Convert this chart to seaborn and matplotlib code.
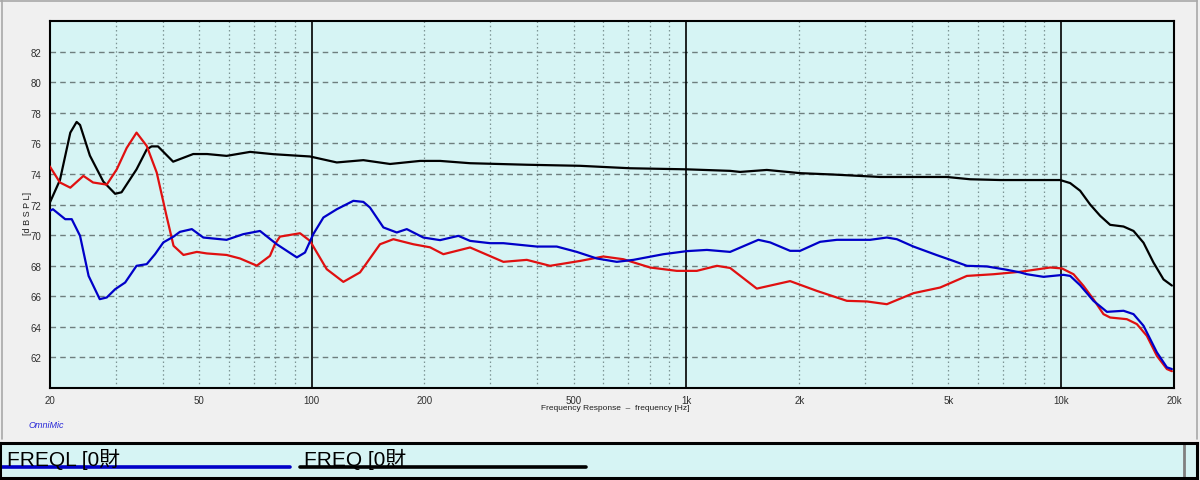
import numpy as np
import pandas as pd
import matplotlib
matplotlib.use("Agg")
import matplotlib.pyplot as plt
import seaborn as sns
from matplotlib.ticker import FixedLocator, FixedFormatter, NullLocator
from matplotlib.lines import Line2D

# ---------------- data (Hz, dB SPL) ----------------
black_freq = [20.0, 21.3, 22.7, 23.6, 24.1, 25.6, 27.8, 29.9, 31.1, 34.1, 36.3, 37.4, 38.9,
              42.7, 48.3, 52.6, 59.3, 68.5, 79.0, 99.0, 116.7, 137.4, 161.9, 194.7, 220.1,
              264.7, 375.1, 520.3, 707.6, 1002, 1308, 1391, 1639, 2011, 2463, 3288, 4954,
              5718, 6873, 7772, 9937, 10568, 11235, 11947, 12706, 13510, 14667, 15596,
              16584, 17634, 18753, 19743]
black_db = [72.1, 73.6, 76.7, 77.4, 77.2, 75.2, 73.5, 72.7, 72.8, 74.3, 75.6, 75.8, 75.8,
            74.8, 75.3, 75.3, 75.18, 75.44, 75.29, 75.14, 74.75, 74.9, 74.65, 74.85, 74.85,
            74.7, 74.6, 74.53, 74.37, 74.3, 74.2, 74.13, 74.26, 74.05, 73.96, 73.8, 73.8,
            73.65, 73.6, 73.6, 73.6, 73.4, 72.9, 72.0, 71.26, 70.67, 70.56, 70.27,
            69.5, 68.2, 67.1, 66.7]

red_freq = [20.0, 21.3, 22.7, 24.6, 26.1, 28.4, 30.2, 32.1, 34.1, 36.3, 38.6, 41.0, 42.8,
            45.5, 49.4, 52.5, 59.3, 64.4, 71.4, 77.4, 79.8, 82.3, 93.1, 99.0, 109.7, 121.5,
            134.6, 152.2, 165.2, 186.8, 207, 224.6, 264.7, 324.8, 375.1, 432.6, 520.3,
            600.4, 679, 800, 942.6, 1066, 1206, 1308, 1541, 1891, 2229, 2680, 3030, 3426,
            4034, 4753, 5602, 6598, 7772, 9348, 10044, 10788, 11468, 12194, 12966, 13510,
            14972, 15918, 16928, 18004, 19144, 19743]
red_db = [74.5, 73.44, 73.1, 73.87, 73.44, 73.3, 74.3, 75.7, 76.7, 75.83, 74.09, 71.25, 69.3,
          68.7, 68.9, 68.8, 68.7, 68.47, 68.0, 68.64, 69.4, 69.9, 70.12, 69.62, 67.77, 66.94,
          67.56, 69.4, 69.73, 69.4, 69.2, 68.75, 69.19, 68.25, 68.38, 67.99, 68.31,
          68.6, 68.42, 67.88, 67.66, 67.66, 67.99, 67.85, 66.5, 66.99, 66.35, 65.7, 65.66, 65.48,
          66.2, 66.57, 67.33, 67.44, 67.6, 67.88, 67.82, 67.44, 66.68, 65.8, 64.83, 64.61,
          64.5, 64.18, 63.41, 62.1, 61.24, 61.1]

blue_freq = [20.0, 20.4, 22.0, 22.9, 24.1, 25.4, 27.2, 28.4, 29.9, 31.8, 34.1, 36.3, 38.2,
             40.2, 42.8, 44.5, 47.9, 51.4, 59.3, 65.7, 72.8, 80.7, 91.3, 96.0, 101.0, 107.5,
             116.7, 129.2, 137.4, 143.1, 155.4, 168.7, 179.4, 198.6, 220.1, 246.3, 264.7,
             299.3, 324.8, 398.8, 450.8, 510, 576.6, 652, 722.2, 868.2, 1002, 1134, 1308,
             1556, 1673, 1891, 2011, 2274, 2520, 3092, 3426, 3644, 4034, 4657, 5159, 5602,
             6333, 7161, 7772, 8100, 8970, 10143, 10568, 11235, 12194, 13245, 14667, 15596,
             16584, 18004, 19144, 19743]
blue_db = [71.58, 71.69, 71.04, 71.04, 69.95, 67.33, 65.81, 65.92, 66.46, 66.9, 67.99, 68.1, 68.75,
           69.52, 69.9, 70.21, 70.39, 69.84, 69.69, 70.06, 70.27, 69.4, 68.54, 68.86, 70.06, 71.15,
           71.69, 72.24, 72.17, 71.8, 70.5, 70.17, 70.39, 69.84, 69.67, 69.95, 69.62,
           69.47, 69.47, 69.25, 69.25, 68.9, 68.47, 68.25, 68.38, 68.75, 68.95, 69.03, 68.9,
           69.69, 69.52, 68.97, 68.97, 69.56, 69.69, 69.69, 69.84, 69.73, 69.25, 68.69, 68.31, 67.99,
           67.95, 67.73, 67.56, 67.44, 67.27, 67.4, 67.33, 66.72, 65.7, 64.98, 65.05, 64.83,
           64.07, 62.33, 61.35, 61.24]

x_tick_vals = [20, 50, 100, 200, 500, 1000, 2000, 5000, 10000, 20000]
x_tick_labels = ["20", "50", "100", "200", "500", "1k", "2k", "5k", "10k", "20k"]
y_tick_vals = [62, 64, 66, 68, 70, 72, 74, 76, 78, 80, 82]
legend_labels = ["FREQL [0財", "FREQ [0財"]

# ---------------- style ----------------
sns.set_theme(style="white")
plt.rcParams["font.family"] = ["Liberation Sans", "Noto Sans CJK SC"]

W, H = 1200, 481
fig = plt.figure(figsize=(W / 100, H / 100), dpi=100, facecolor="#f0f0f0")

L, R, T, B = 49.7, 1174, 22, 389
ax = fig.add_axes([L / W, 1 - B / H, (R - L) / W, (B - T) / H])
ax.set_facecolor("#d6f4f4")

df = pd.concat([
    pd.DataFrame({"freq": black_freq, "db": black_db, "curve": "black"}),
    pd.DataFrame({"freq": red_freq, "db": red_db, "curve": "red"}),
    pd.DataFrame({"freq": blue_freq, "db": blue_db, "curve": "blue"}),
], ignore_index=True)

palette = {"black": "#000000", "red": "#e01010", "blue": "#0000c8"}
sns.lineplot(data=df, x="freq", y="db", hue="curve", palette=palette, ax=ax,
             legend=False, sort=False, estimator=None, linewidth=1.6, zorder=5)

ax.set_xscale("log")
ax.set_xlim(20, 20000)
ax.set_ylim(60, 84)

# grids
minor_x = [m * d for d in (10, 100, 1000) for m in range(2, 10) if 20 < m * d < 20000]
minor_x = [v for v in minor_x if v not in (100, 1000, 10000)]
for v in minor_x:
    ax.axvline(v, color="#7c9494", lw=0.9, ls=(0, (1.2, 2.2)), zorder=1)
for v in (100, 1000, 10000):
    ax.axvline(v, color="#000000", lw=1.2, zorder=2)
for v in y_tick_vals:
    ax.axhline(v, color="#6e7e7e", lw=1.0, ls=(0, (4, 3)), zorder=1)

ax.xaxis.set_major_locator(FixedLocator(x_tick_vals))
ax.xaxis.set_major_formatter(FixedFormatter(x_tick_labels))
ax.xaxis.set_minor_locator(NullLocator())
ax.set_yticks(y_tick_vals)
ax.set_yticklabels([str(v) for v in y_tick_vals])
ax.tick_params(axis="both", length=0, labelsize=7, colors="#303030")
ax.tick_params(axis="x", pad=5)
ax.tick_params(axis="y", pad=6)
ax.set_xlabel("")
ax.set_ylabel("")
ax.grid(False)
for s in ax.spines.values():
    s.set_color("black")
    s.set_linewidth(1.5)

fig.text(27 / W, 1 - 213 / H, "[d B S P L]", rotation=90, ha="center", va="center",
         fontsize=6.5, color="#202020")
fig.text(615 / W, 1 - 409 / H, "Frequency Response  –  frequency [Hz]", ha="center",
         va="center", fontsize=6, color="#202020")
fig.text(29 / W, 1 - 426 / H, "OmniMic", ha="left", va="center", fontsize=6.5,
         style="italic", color="#2828d8")

# figure frame
for (x0, y0, x1, y1) in [(0, 1.5, 1197, 1.5), (1.5, 0, 1.5, 440), (1196.5, 0, 1196.5, 440)]:
    fig.add_artist(Line2D([x0 / W, x1 / W], [1 - y0 / H, 1 - y1 / H], color="#a8a8a8",
                          lw=1.2, transform=fig.transFigure))

# bottom legend strip
PL, PR, PT, PB = 0, 1197, 444, 479
pax = fig.add_axes([PL / W, 1 - PB / H, (PR - PL) / W, (PB - PT) / H])
pax.set_facecolor("#d6f4f4")
pax.set_xlim(PL, PR)
pax.set_ylim(PB, PT)
pax.set_xticks([])
pax.set_yticks([])
for s in pax.spines.values():
    s.set_color("black")
    s.set_linewidth(2.2)
pax.plot([1184, 1184], [PT, PB], color="#808080", lw=2)
pax.text(7, 466.5, legend_labels[0], fontsize=15, color="black", va="baseline", ha="left")
pax.plot([2, 290], [467.5, 467.5], color="#0000c8", lw=2.6)
pax.text(304, 466.5, legend_labels[1], fontsize=15, color="black", va="baseline", ha="left")
pax.plot([300, 586], [467.5, 467.5], color="#000000", lw=2.6)

fig.savefig("out.png", dpi=100, facecolor=fig.get_facecolor())
